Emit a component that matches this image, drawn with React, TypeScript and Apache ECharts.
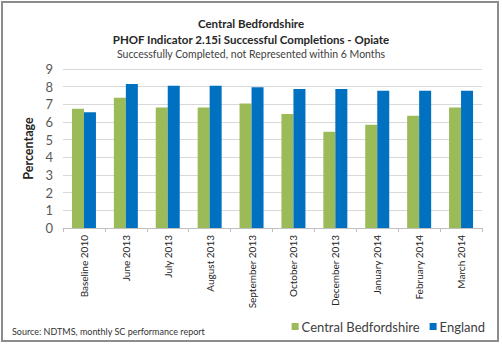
import React, { useEffect, useRef } from "react";
import * as echarts from "echarts";

const categories = [
  "Baseline 2010",
  "June 2013",
  "July 2013",
  "August 2013",
  "September 2013",
  "October 2013",
  "December 2013",
  "January 2014",
  "February 2014",
  "March 2014",
];
const centralBedfordshire = [6.75, 7.37, 6.82, 6.82, 7.05, 6.45, 5.45, 5.85, 6.35, 6.82];
const england = [6.55, 8.15, 8.05, 8.05, 7.97, 7.87, 7.87, 7.77, 7.77, 7.77];
const yTicks = [0, 9, 1];

const FONT = "Lato, 'Open Sans', sans-serif";

export default function App() {
  const ref = useRef<HTMLDivElement>(null);
  useEffect(() => {
    if (!ref.current) return;
    const chart = echarts.init(ref.current, null, { renderer: "svg" });
    chart.setOption({
      animation: false,
      backgroundColor: "#ffffff",
      textStyle: { fontFamily: FONT },
      title: [
        {
          text: "Central Bedfordshire",
          left: "center",
          top: 12,
          textStyle: { fontSize: 11.5, fontWeight: "bold", color: "#262626", fontFamily: FONT },
        },
        {
          text: "PHOF Indicator 2.15i Successful Completions - Opiate",
          left: "center",
          top: 28,
          textStyle: { fontSize: 11.5, fontWeight: "bold", color: "#262626", fontFamily: FONT },
        },
        {
          text: "Successfully Completed, not Represented within 6 Months",
          left: "center",
          top: 43,
          textStyle: { fontSize: 10.5, fontWeight: "normal", color: "#404040", fontFamily: FONT },
        },
      ],
      graphic: [
        {
          type: "rect",
          shape: { x: 2, y: 2, width: 496, height: 339 },
          style: { fill: "none", stroke: "#8c8c8c", lineWidth: 2 },
          silent: true,
        },
        {
          type: "text",
          left: 12,
          top: 327,
          style: {
            text: "Source: NDTMS, monthly SC performance report",
            fontSize: 9,
            fill: "#333333",
            fontFamily: FONT,
          },
        },
      ],
      legend: {
        right: 12,
        top: 315,
        itemWidth: 7,
        itemHeight: 7,
        itemGap: 10,
        icon: "rect",
        textStyle: { fontSize: 13, color: "#404040", fontFamily: FONT, padding: [0, 0, 0, -2] },
        data: ["Central Bedfordshire", "England"],
      },
      grid: { left: 63, right: 20, top: 69, bottom: 117 },
      xAxis: {
        type: "category",
        data: categories,
        axisLine: { lineStyle: { color: "#bfbfbf" } },
        axisTick: { show: true, alignWithLabel: false, length: 4, lineStyle: { color: "#bfbfbf" } },
        axisLabel: {
          rotate: 90,
          fontSize: 10,
          color: "#262626",
          margin: 7,
          interval: 0,
          fontFamily: FONT,
        },
      },
      yAxis: {
        type: "value",
        min: yTicks[0],
        max: yTicks[1],
        interval: yTicks[2],
        name: "Percentage",
        nameLocation: "middle",
        nameGap: 22,
        nameTextStyle: { fontSize: 12.5, fontWeight: "bold", color: "#262626", fontFamily: FONT },
        axisLine: { show: false },
        axisTick: { show: false },
        axisLabel: { fontSize: 13, color: "#595959", margin: 10, fontFamily: FONT },
        splitLine: { lineStyle: { color: "#d9d9d9", width: 1 } },
      },
      series: [
        {
          name: "Central Bedfordshire",
          type: "bar",
          data: centralBedfordshire,
          barWidth: 12,
          barGap: "0%",
          itemStyle: { color: "#9bbb59" },
        },
        {
          name: "England",
          type: "bar",
          data: england,
          barWidth: 12,
          barGap: "0%",
          itemStyle: { color: "#0070c0" },
        },
      ],
    });
    return () => chart.dispose();
  }, []);
  return (
    <div
      ref={ref}
      style={{ position: "absolute", left: 0, top: 0, width: 502, height: 345 }}
    />
  );
}
